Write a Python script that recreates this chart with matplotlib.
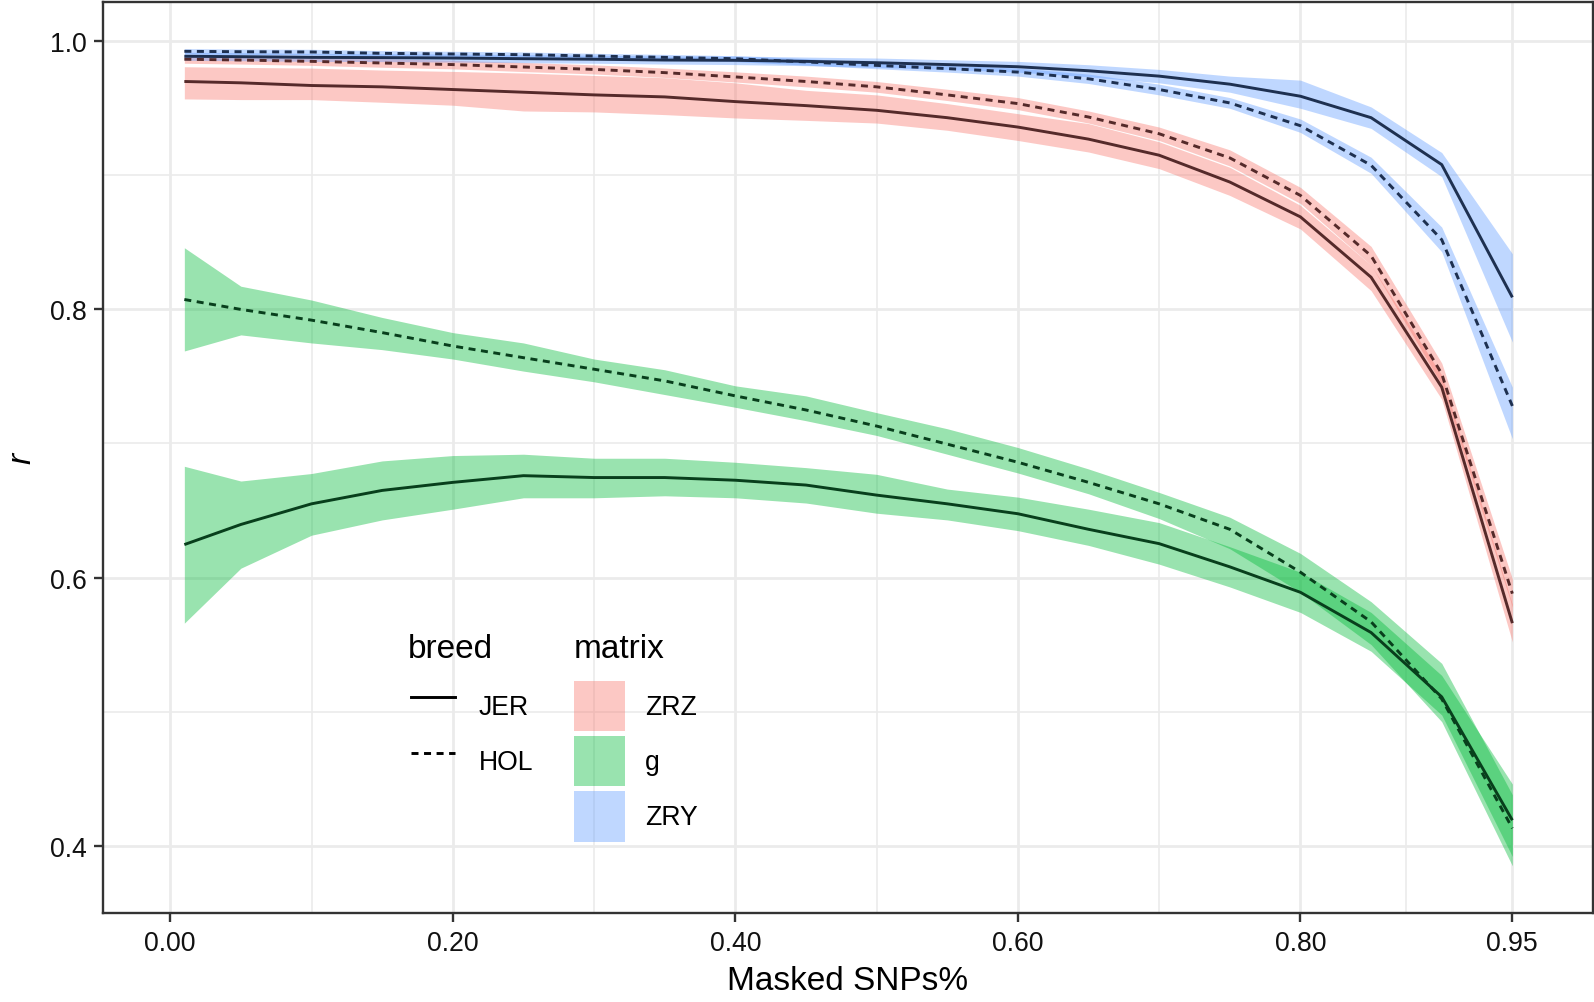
#!/usr/bin/env python3
# imputation accuracy vs share of masked SNPs, per breed and matrix

import matplotlib
matplotlib.use("Agg")
import matplotlib.pyplot as plt
from matplotlib.lines import Line2D
from matplotlib.patches import Patch

plt.rcParams['font.family'] = ['Liberation Sans', 'DejaVu Sans']

masked = [0.01, 0.05, 0.10, 0.15, 0.20, 0.25, 0.30, 0.35, 0.40, 0.45,
          0.50, 0.55, 0.60, 0.65, 0.70, 0.75, 0.80, 0.85, 0.90, 0.95]

# ZRZ
zrz_jer    = [.970, .969, .967, .966, .964, .962, .960, .9585, .955, .952,
              .9485, .943, .936, .927, .915, .895, .869, .824, .742, .566]
zrz_jer_lo = [.957, .9565, .9565, .9545, .9523, .948, .9473, .9453, .9428, .941,
              .939, .9336, .926, .9174, .905, .885, .860, .814, .733, .552]
zrz_jer_hi = [.981, .9805, .980, .9785, .9775, .9763, .9745, .9728, .969, .9634,
              .960, .9535, .946, .9386, .925, .906, .8776, .833, .751, .580]
zrz_hol    = [.9866, .986, .985, .9838, .9826, .9808, .979, .9766, .9734, .970,
              .966, .960, .9535, .9435, .931, .913, .885, .840, .752, .588]
zrz_hol_lo = [.9836, .983, .982, .9806, .9794, .9774, .9756, .973, .9696, .966,
              .962, .9558, .949, .939, .926, .907, .879, .833, .744, .578]
zrz_hol_hi = [.9896, .989, .988, .987, .9858, .9842, .9824, .980, .9772, .974,
              .970, .9642, .958, .948, .936, .919, .891, .847, .760, .599]

# g
g_jer    = [.6246, .6396, .655, .665, .671, .676, .6746, .6746, .6726, .669,
            .6615, .655, .6476, .636, .6253, .608, .589, .559, .511, .419]
g_jer_lo = [.566, .607, .6316, .643, .651, .6595, .6595, .661, .6595, .6556,
            .648, .643, .635, .624, .610, .593, .574, .545, .4975, .392]
g_jer_hi = [.683, .672, .6776, .687, .691, .692, .689, .689, .686, .682,
            .677, .666, .660, .651, .641, .623, .604, .574, .527, .446]
g_hol    = [.8074, .800, .792, .7827, .7727, .764, .7554, .7467, .7355, .725,
            .713, .6995, .686, .671, .655, .636, .604, .567, .5095, .413]
g_hol_lo = [.769, .781, .775, .770, .763, .754, .746, .7365, .727, .717,
            .706, .692, .678, .6625, .644, .6215, .589, .550, .4925, .385]
g_hol_hi = [.846, .8173, .807, .794, .7827, .775, .763, .755, .743, .7355,
            .723, .711, .697, .681, .6635, .645, .618, .582, .536, .438]

# ZRY
zry_jer    = [.9888, .9885, .988, .9878, .9875, .987, .9866, .986, .9858, .985,
              .984, .9826, .981, .978, .974, .968, .959, .943, .908, .809]
zry_jer_lo = [.9858, .9855, .985, .9848, .9845, .984, .9836, .983, .9826, .9818,
              .9805, .979, .977, .9735, .969, .962, .950, .935, .899, .7756]
zry_jer_hi = [.9918, .9915, .991, .9908, .9905, .990, .9896, .989, .989, .9882,
              .9875, .9862, .985, .9825, .979, .974, .971, .951, .917, .8415]
zry_hol    = [.9925, .9922, .992, .991, .9905, .990, .989, .988, .987, .9846,
              .982, .9796, .977, .972, .964, .954, .937, .9075, .852, .728]
zry_hol_lo = [.9905, .9902, .990, .989, .9885, .988, .987, .9858, .9848, .9822,
              .9795, .977, .974, .9685, .960, .950, .932, .9015, .843, .7035]
zry_hol_hi = [.9945, .9942, .994, .993, .9925, .992, .991, .9902, .9892, .987,
              .9845, .9822, .980, .9755, .968, .958, .942, .9135, .8614, .742]

matrices = ["ZRZ", "g", "ZRY"]
breeds = ["JER", "HOL"]
fills = {"ZRZ": "#F8766D", "g": "#00BA38", "ZRY": "#619CFF"}
lines = {"ZRZ": "#552A2A", "g": "#083F1C", "ZRY": "#1E3050"}

series = {
    ("ZRZ", "JER"): (zrz_jer, zrz_jer_lo, zrz_jer_hi),
    ("ZRZ", "HOL"): (zrz_hol, zrz_hol_lo, zrz_hol_hi),
    ("g", "JER"): (g_jer, g_jer_lo, g_jer_hi),
    ("g", "HOL"): (g_hol, g_hol_lo, g_hol_hi),
    ("ZRY", "JER"): (zry_jer, zry_jer_lo, zry_jer_hi),
    ("ZRY", "HOL"): (zry_hol, zry_hol_lo, zry_hol_hi),
}

LW = 2.1
DASH = (2.4, 1.9)

fig = plt.figure(figsize=(15.94, 10.03), dpi=100)
ax = fig.add_axes([0.0646, 0.0887, 0.9348, 0.9086])

# ribbons first, then lines on top
for m in matrices:
    for b in breeds:
        mean, lo, hi = series[(m, b)]
        ax.fill_between(masked, lo, hi, color=fills[m], alpha=0.4,
                        linewidth=0, zorder=2)
for m in matrices:
    for b in breeds:
        mean, lo, hi = series[(m, b)]
        ln, = ax.plot(masked, mean, color=lines[m], lw=LW, zorder=3,
                      solid_capstyle='butt')
        if b == "HOL":
            ln.set_dashes(DASH)

ax.set_xlim(-0.0476, 1.0071)
ax.set_ylim(0.3498, 1.0295)

ax.set_xticks([0.0, 0.2, 0.4, 0.6, 0.8, 0.95])
ax.set_xticklabels(["0.00", "0.20", "0.40", "0.60", "0.80", "0.95"])
ax.set_xticks([0.1, 0.3, 0.5, 0.7, 0.875], minor=True)
ax.set_yticks([0.4, 0.6, 0.8, 1.0])
ax.set_yticklabels(["0.4", "0.6", "0.8", "1.0"])
ax.set_yticks([0.5, 0.7, 0.9], minor=True)

ax.grid(which='major', color='#EBEBEB', lw=2.0, zorder=0)
ax.grid(which='minor', color='#EBEBEB', lw=1.2, zorder=0)
ax.set_axisbelow(True)

for sp in ax.spines.values():
    sp.set_color('#333333')
    sp.set_linewidth(1.7)
ax.tick_params(which='major', length=6.5, width=1.7, color='#333333',
               labelsize=19.2, labelcolor='#111111', pad=5.5)
ax.tick_params(which='minor', length=0)

ax.set_xlabel("Masked SNPs%", fontsize=24, labelpad=7)
ax.set_ylabel("r", fontsize=24, style='italic', labelpad=9)

# legends: titles as plain text, keys as two untitled legends
fig.text(0.2558, 0.3437, "breed", fontsize=24, va='baseline', ha='left')
fig.text(0.3597, 0.3437, "matrix", fontsize=24, va='baseline', ha='left')

HH = 2.546  # gives a key box about 1.9 em tall
breed_handles = [Line2D([], [], color='black', lw=LW),
                 Line2D([], [], color='black', lw=LW, dashes=DASH)]
fig.legend(breed_handles, breeds, loc='upper left',
           bbox_to_anchor=(0.2578, 0.3203), frameon=False, fontsize=19.2,
           handlelength=1.67, handleheight=HH, handletextpad=0.87,
           labelspacing=0.165, borderpad=0, borderaxespad=0)
mat_handles = [Patch(facecolor=fills[m], alpha=0.4, edgecolor='none')
               for m in matrices]
fig.legend(mat_handles, matrices, loc='upper left',
           bbox_to_anchor=(0.3603, 0.3203), frameon=False, fontsize=19.2,
           handlelength=1.9, handleheight=HH, handletextpad=0.75,
           labelspacing=0.165, borderpad=0, borderaxespad=0)

fig.savefig("out.png", dpi=100)
